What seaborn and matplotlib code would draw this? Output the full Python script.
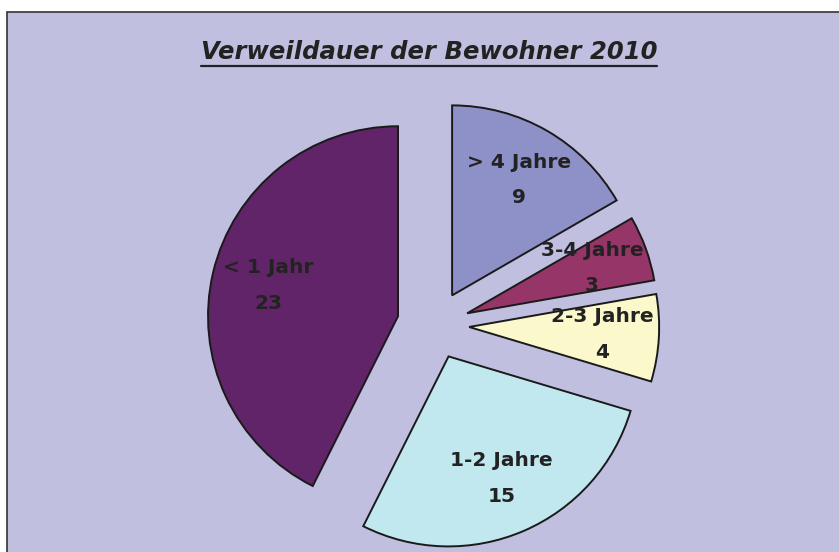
import matplotlib.pyplot as plt
import seaborn as sns
from matplotlib.lines import Line2D
from matplotlib.patches import Rectangle
import numpy as np

categories = ['> 4 Jahre', '3-4 Jahre', '2-3 Jahre', '1-2 Jahre', '< 1 Jahr']
counts = [9, 3, 4, 15, 23]
slice_colors = ['#8E90C8', '#963668', '#FBF8CC', '#C2E8EF', '#622468']
title = 'Verweildauer der Bewohner 2010'

sns.set_theme(style='white')
plt.rcParams['font.family'] = ['DejaVu Sans']

W, H = 839, 552
fig = plt.figure(figsize=(W / 100, H / 100), dpi=100)
fig.patch.set_facecolor('white')

# chart area, cut off at the right and bottom like the source
fig.add_artist(Rectangle((7 / W, -0.1), 1.0, (H - 12) / H + 0.1, transform=fig.transFigure,
                         facecolor='#C0BFE0', edgecolor='#333333', lw=1.2, zorder=0))

ax = fig.add_axes([0, 0, 1, 1])
ax.set_facecolor('none')
R = 190  # pie radius in pixels
cx, cy = 435, 325
palette = sns.color_palette(slice_colors)
wedges, _ = ax.pie(counts, colors=palette, startangle=90, counterclock=False,
                   explode=[0.18, 0.18, 0.18, 0.18, 0.2], radius=1, center=(0, 0),
                   wedgeprops={'edgecolor': '#1a1a1a', 'linewidth': 1.4})
ax.set_xlim(-cx / R, (W - cx) / R)
ax.set_ylim(-(H - cy) / R, cy / R)
ax.axis('off')

for w, name, val in zip(wedges, categories, counts):
    mid = np.deg2rad((w.theta1 + w.theta2) / 2)
    x0, y0 = w.center
    x = x0 + 0.7 * w.r * np.cos(mid)
    y = y0 + 0.7 * w.r * np.sin(mid)
    ax.text(x, y, f'{name}\n{val}', ha='center', va='center', multialignment='center',
            fontsize=14.5, fontweight='bold', color='#222222', linespacing=2.1)

t = fig.text(429 / W, 1 - 52 / H, title, ha='center', va='center', fontsize=17.5,
             fontweight='bold', fontstyle='italic', color='#222222')
fig.canvas.draw()
bb = t.get_window_extent()
fig.add_artist(Line2D([bb.x0 / W, bb.x1 / W], [1 - 66 / H, 1 - 66 / H], transform=fig.transFigure,
                      color='#222222', lw=1.6))

fig.savefig('out.png', dpi=100)
